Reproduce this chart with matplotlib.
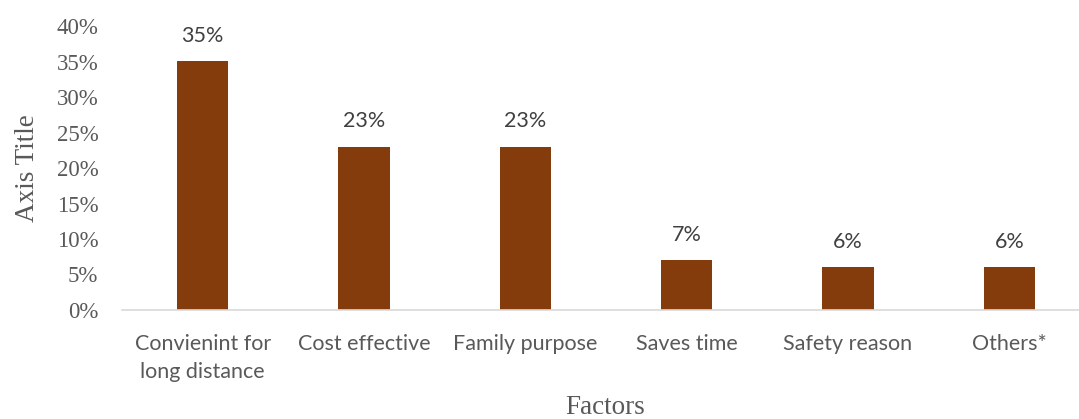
import numpy as np
import matplotlib.pyplot as plt
from matplotlib.ticker import MultipleLocator, PercentFormatter

factors = ['Convienint for\nlong distance', 'Cost effective', 'Family purpose',
           'Saves time', 'Safety reason', 'Others*']
shares = [35, 23, 23, 7, 6, 6]

bar_color = '#843C0C'
serif = 'Liberation Serif'
sans = 'Lato'

fig = plt.figure(figsize=(10.79, 4.19), dpi=100)
ax = fig.add_axes([122/1079, 109/419, 968/1079, 284/419])

x = np.arange(len(factors))
bars = ax.bar(x, shares, width=0.32, color=bar_color)

ax.set_xlim(-0.5, len(factors) - 0.5)
ax.set_ylim(0, 40)
ax.yaxis.set_major_locator(MultipleLocator(5))
ax.yaxis.set_major_formatter(PercentFormatter(decimals=0))

for lbl in ax.get_yticklabels():
    lbl.set_fontfamily(serif)
ax.tick_params(axis='y', length=0, pad=17, labelsize=16.5, labelcolor='#595959')
ax.set_xticks(x)
ax.set_xticklabels(factors, fontfamily=sans, fontsize=15.5, color='#595959',
                   linespacing=1.55)
ax.tick_params(axis='x', length=0, pad=17)

for s in ['top', 'right', 'left']:
    ax.spines[s].set_visible(False)
ax.spines['bottom'].set_color('#D9D9D9')
ax.spines['bottom'].set_linewidth(1.2)

for b, v in zip(bars, shares):
    ax.annotate('{}%'.format(v), (b.get_x() + b.get_width() / 2, v),
                xytext=(0, 11), textcoords='offset points', ha='center', va='bottom',
                fontfamily=sans, fontsize=15.5, color='#404040')

ax.set_ylabel('Axis Title', fontfamily=serif, fontsize=19.5, color='#595959', labelpad=12)
fig.text(605/1079, 1 - 407/419, 'Factors', ha='center', va='center',
         fontfamily=serif, fontsize=19.5, color='#595959')

plt.savefig('out.png', dpi=100)
